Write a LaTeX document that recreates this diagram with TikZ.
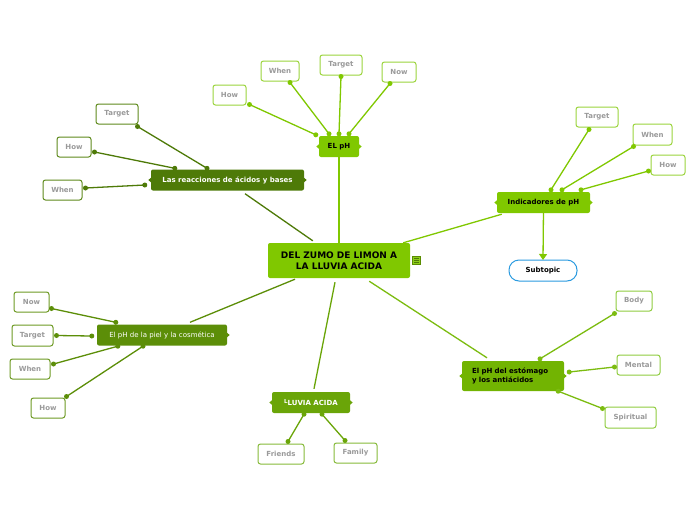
\documentclass[tikz,border=0pt]{standalone}
\usepackage{fontspec}
\setmainfont{DejaVu Sans}
\usetikzlibrary{calc,arrows.meta}
\definecolor{lime}{HTML}{80C800}
\definecolor{limeb}{HTML}{9BD43C}
\definecolor{dkg}{HTML}{4E7A08}
\definecolor{dkgb}{HTML}{5E8A1C}
\definecolor{pielg}{HTML}{5C8E08}
\definecolor{pielb}{HTML}{6E9A24}
\definecolor{lluv}{HTML}{6AA508}
\definecolor{lluvb}{HTML}{86BA3A}
\definecolor{estg}{HTML}{72B402}
\definecolor{estl}{HTML}{7CBC10}
\definecolor{estb}{HTML}{90CC40}
\definecolor{gtxt}{HTML}{9A9A9A}
\definecolor{blueb}{HTML}{2B9BE0}
\newcommand\lt[2]{\fill[#2] ($(#1.west)+(0.5,-2.5)$) -- ++(-3,2.5) -- ++(3,2.5) -- cycle;}
\newcommand\rt[2]{\fill[#2] ($(#1.east)+(-0.5,-2.5)$) -- ++(3,2.5) -- ++(-3,2.5) -- cycle;}
\newcommand\cn[3]{\draw[conn=#1] #2 -- #3 node[dotn,pos=0]{} node[dotn,pos=1]{};}
\begin{document}
\begin{tikzpicture}[x=1pt,y=-1pt,
  mainn/.style={rounded corners=2pt, inner sep=0pt, align=center,
    font=\fontsize{7}{9}\selectfont\bfseries, text=black},
  subn/.style={draw, line width=1pt, fill=white, rounded corners=2.5pt, inner sep=0pt,
    font=\fontsize{7}{8}\selectfont\bfseries, text=gtxt},
  conn/.style={line width=1.3pt, color=#1},
  dotn/.style={circle, fill, inner sep=0pt, minimum size=5pt},
  plain/.style={line width=1.3pt, color=#1}]
\fill[white] (0,0) rectangle (696,520);
\useasboundingbox (0,0) rectangle (696,520);

% central
\node[mainn, fill=lime, minimum width=142pt, minimum height=35pt,
  font=\fontsize{9}{11}\selectfont\bfseries] (central) at (339,260.5) {DEL ZUMO DE LIMON A\\LA LLUVIA ACIDA};
\node[draw=lime!70!black, fill=lime!90!white, line width=0.6pt, minimum width=8pt, minimum height=8pt, inner sep=0pt] (icon) at (416.5,260.5) {};
\foreach \yy in {-2,0,2} \draw[dkg, line width=0.6pt] ($(icon.center)+(-2.2,\yy)$) -- ($(icon.center)+(2.2,\yy)$);

% EL pH
\node[mainn, fill=lime, minimum width=40pt, minimum height=21pt] (elph) at (339,146.5) {EL pH};
\node[subn, draw=limeb, minimum width=33pt, minimum height=20pt] (thow) at (229.5,95) {How};
\node[subn, draw=limeb, minimum width=38pt, minimum height=20pt] (twhen) at (280,71) {When};
\node[subn, draw=limeb, minimum width=42pt, minimum height=20pt] (ttarget) at (341,65) {Target};
\node[subn, draw=limeb, minimum width=34pt, minimum height=20pt] (tnow) at (399,72) {Now};
\lt{elph}{lime}\rt{elph}{lime}
\cn{lime}{([shift={(3,-1)}]thow.south east)}{([shift={(-3,-1)}]elph.north west)}
\cn{lime}{([shift={(10,1)}]twhen.south)}{([shift={(-10,-2)}]elph.north)}
\cn{lime}{([shift={(0,1)}]ttarget.south)}{([shift={(0,-2)}]elph.north)}
\cn{lime}{([shift={(-9,1)}]tnow.south)}{([shift={(10,-2)}]elph.north)}
\draw[plain=lime] ([yshift=3]elph.south) -- ([yshift=-2]central.north);

% Las reacciones
\node[mainn, fill=dkg, text=white, minimum width=153pt, minimum height=21pt] (reac) at (227.5,180) {Las reacciones de ácidos y bases};
\node[subn, draw=dkgb, minimum width=42pt, minimum height=20pt] (rtarget) at (117,114) {Target};
\node[subn, draw=dkgb, minimum width=34pt, minimum height=20pt] (rhow) at (74,147) {How};
\node[subn, draw=dkgb, minimum width=39pt, minimum height=20pt] (rwhen) at (62.5,190) {When};
\lt{reac}{dkg}\rt{reac}{dkg}
\cn{dkg}{([shift={(-1,2)}]rtarget.south east)}{([shift={(-20.5,-1)}]reac.north)}
\cn{dkg}{([shift={(3,5)}]rhow.east)}{([shift={(24,-1)}]reac.north west)}
\cn{dkg}{([shift={(3,-2)}]rwhen.east)}{([shift={(-6,5)}]reac.west)}
\draw[plain=dkg] ([shift={(17.5,3)}]reac.south) -- ([shift={(45,-2)}]central.north west);

% Indicadores
\node[mainn, fill=lime, minimum width=93pt, minimum height=21pt] (ind) at (543.5,202.5) {Indicadores de pH};
\node[subn, draw=limeb, minimum width=42pt, minimum height=20pt] (itarget) at (597,117) {Target};
\node[subn, draw=limeb, minimum width=39pt, minimum height=21pt] (iwhen) at (652.5,134.5) {When};
\node[subn, draw=limeb, minimum width=34pt, minimum height=20pt] (ihow) at (668,165) {How};
\node[draw=blueb, line width=1pt, fill=white, rounded corners=10pt, minimum width=68pt, minimum height=21pt,
  inner sep=0pt, font=\fontsize{7}{8}\selectfont\bfseries] (subtopic) at (543,270.5) {Subtopic};
\lt{ind}{lime}\rt{ind}{lime}
\cn{lime}{([shift={(-8,2)}]itarget.south)}{([shift={(7.5,-2)}]ind.north)}
\cn{lime}{([shift={(1,1)}]iwhen.south west)}{([shift={(18.5,-2)}]ind.north)}
\cn{lime}{([shift={(-2,6)}]ihow.west)}{([shift={(37.5,-2)}]ind.north)}
\draw[plain=lime] ([shift={(5,1)}]ind.south west) -- ([shift={(-7,0)}]central.north east);
\draw[plain=lime, -{Triangle[length=6pt,width=8pt]}] ([yshift=4]ind.south) -- ([yshift=-0.5]subtopic.north);

% piel
\node[mainn, fill=pielg, text=white, minimum width=130pt, minimum height=21pt,
  font=\fontsize{7}{9}\selectfont] (piel) at (162,335) {El pH de la piel y la cosmética};
\node[subn, draw=pielb, minimum width=35pt, minimum height=20pt] (pnow) at (31.5,302) {Now};
\node[subn, draw=pielb, minimum width=41pt, minimum height=21pt] (ptarget) at (32.5,335.5) {Target};
\node[subn, draw=pielb, minimum width=40pt, minimum height=20pt] (pwhen) at (30,369) {When};
\node[subn, draw=pielb, minimum width=34pt, minimum height=20pt] (phow) at (48,408) {How};
\rt{piel}{pielg}
\cn{pielg}{([shift={(2,-4)}]pnow.south east)}{([shift={(19,-2)}]piel.north west)}
\cn{pielg}{([shift={(3,0)}]ptarget.east)}{([shift={(-5,1)}]piel.west)}
\cn{pielg}{([shift={(3,-5)}]pwhen.east)}{([shift={(21,0.5)}]piel.south west)}
\cn{pielg}{([shift={(1,-1)}]phow.north east)}{([shift={(-19,0.5)}]piel.south)}
\draw[plain=pielg] ([shift={(28,-2)}]piel.north) -- ([shift={(-44,1)}]central.south);

% LLUVIA ACIDA
\node[mainn, fill=lluv, text=white, minimum width=78pt, minimum height=21pt] (lluvia) at (311,402.5) {\raisebox{1.2pt}{\fontsize{5.5}{6}\selectfont L}LUVIA ACIDA};
\node[subn, draw=lluvb, minimum width=46pt, minimum height=20pt] (lfriends) at (281,454) {Friends};
\node[subn, draw=lluvb, minimum width=43pt, minimum height=20pt] (lfamily) at (355.5,453) {Family};
\lt{lluvia}{lluv}\rt{lluvia}{lluv}
\cn{lluv}{([shift={(7,-2)}]lfriends.north)}{([shift={(-7,1)}]lluvia.south)}
\cn{lluv}{([shift={(-10.5,-2)}]lfamily.north)}{([shift={(11,1)}]lluvia.south)}
\draw[plain=lluv] ([shift={(3,-3)}]lluvia.north) -- ([shift={(-4,4)}]central.south);

% estomago
\node[mainn, fill=estg, minimum width=102pt, minimum height=30pt, align=left,
  text width=82pt, font=\fontsize{7}{9}\selectfont\bfseries] (est) at (513,376) {El pH del estómago\\y los antiácidos};
\node[subn, draw=estb, minimum width=36pt, minimum height=20pt] (ebody) at (634,301) {Body};
\node[subn, draw=estb, minimum width=43pt, minimum height=20pt] (emental) at (638.5,365) {Mental};
\node[subn, draw=estb, minimum width=51pt, minimum height=21pt] (espirit) at (630.5,417.5) {Spiritual};
\lt{est}{estg}\rt{est}{estg}
\cn{estl}{([shift={(-1,2)}]ebody.south west)}{([shift={(27,-2)}]est.north)}
\cn{estl}{([shift={(-2,2)}]emental.west)}{([shift={(5,-4)}]est.east)}
\cn{estl}{([shift={(-2,2)}]espirit.north west)}{([shift={(-6,0)}]est.south east)}
\draw[plain=estl] ([shift={(-26,-3)}]est.north) -- ([shift={(-41,3)}]central.south east);
\end{tikzpicture}
\end{document}
